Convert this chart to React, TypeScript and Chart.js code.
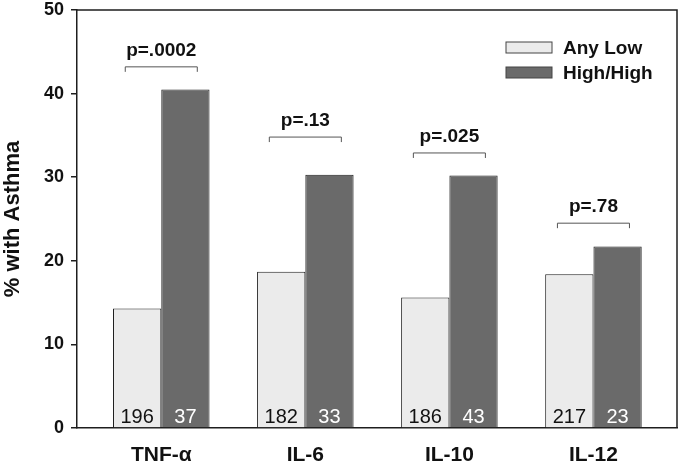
import React, { useEffect, useRef } from "react";
import { Chart, registerables } from "chart.js";

Chart.register(...registerables);

const categories = ["TNF-α", "IL-6", "IL-10", "IL-12"];
const anyLow = [14.3, 18.7, 15.6, 18.4];
const highHigh = [40.5, 30.3, 30.2, 21.7];
const anyLowN = ["196", "182", "186", "217"];
const highHighN = ["37", "33", "43", "23"];
const pValues = ["p=.0002", "p=.13", "p=.025", "p=.78"];
const bracketLevels = [43.2, 34.8, 32.9, 24.5];
const seriesNames = ["Any Low", "High/High"];
const yTicks = [0, 10, 20, 30, 40, 50];

const FONT = "'Liberation Sans', Arial, Helvetica, sans-serif";
const LIGHT = "#ebebeb";
const DARK = "#6a6a6a";
const EDGE = "#1e1e1e";

const overlay = {
  id: "overlay",
  afterDatasetsDraw(chart: any) {
    const ctx = chart.ctx;
    const { left, right, top, bottom } = chart.chartArea;
    const xs = chart.scales.x;
    const ys = chart.scales.y;
    ctx.save();
    // frame top/right
    ctx.strokeStyle = EDGE;
    ctx.lineWidth = 1.5;
    ctx.beginPath();
    ctx.moveTo(left, top);
    ctx.lineTo(right, top);
    ctx.lineTo(right, bottom);
    ctx.stroke();

    // n labels
    ctx.font = `20px ${FONT}`;
    ctx.textAlign = "center";
    ctx.textBaseline = "alphabetic";
    const m0 = chart.getDatasetMeta(0);
    const m1 = chart.getDatasetMeta(1);
    m0.data.forEach((bar: any, i: number) => {
      ctx.fillStyle = "#111";
      ctx.fillText(anyLowN[i], bar.x, bottom - 5);
    });
    m1.data.forEach((bar: any, i: number) => {
      ctx.fillStyle = "#fff";
      ctx.fillText(highHighN[i], bar.x, bottom - 5);
    });

    // brackets and p-values
    categories.forEach((_, i) => {
      const x1 = xs.getPixelForValue(i + 1 - 0.25);
      const x2 = xs.getPixelForValue(i + 1 + 0.25);
      const y = ys.getPixelForValue(bracketLevels[i]);
      ctx.strokeStyle = "#555";
      ctx.lineWidth = 1;
      ctx.beginPath();
      ctx.moveTo(x1, y + 5);
      ctx.lineTo(x1, y);
      ctx.lineTo(x2, y);
      ctx.lineTo(x2, y + 5);
      ctx.stroke();
      ctx.fillStyle = "#111";
      ctx.font = `bold 19px ${FONT}`;
      ctx.textAlign = "center";
      ctx.textBaseline = "alphabetic";
      ctx.fillText(pValues[i], (x1 + x2) / 2, y - 11);
    });

    // legend
    const lx = right - 171;
    const colors = [LIGHT, DARK];
    seriesNames.forEach((name, i) => {
      const by = top + 32 + i * 25;
      ctx.fillStyle = colors[i];
      ctx.fillRect(lx, by, 46, 11);
      ctx.strokeStyle = "#444";
      ctx.lineWidth = 1;
      ctx.strokeRect(lx, by, 46, 11);
      ctx.fillStyle = "#111";
      ctx.font = `bold 19px ${FONT}`;
      ctx.textAlign = "left";
      ctx.textBaseline = "alphabetic";
      ctx.fillText(name, lx + 57, by + 12);
    });
    ctx.restore();
  },
};

export default function App() {
  const ref = useRef<HTMLCanvasElement>(null);
  useEffect(() => {
    document.body.style.margin = "0";
    const chart = new Chart(ref.current as HTMLCanvasElement, {
      type: "bar",
      data: {
        datasets: [
          {
            label: seriesNames[0],
            data: anyLow.map((v, i) => ({ x: i + 1, y: v })),
            backgroundColor: LIGHT,
            borderColor: EDGE,
            borderWidth: 1,
          },
          {
            label: seriesNames[1],
            data: highHigh.map((v, i) => ({ x: i + 1, y: v })),
            backgroundColor: DARK,
            borderColor: EDGE,
            borderWidth: 1,
          },
        ],
      },
      options: {
        responsive: false,
        animation: false,
        events: [],
        layout: { padding: { top: 10, right: 3, left: 0, bottom: 0 } },
        datasets: { bar: { categoryPercentage: 0.67, barPercentage: 1 } },
        plugins: { legend: { display: false }, tooltip: { enabled: false } },
        scales: {
          x: {
            type: "linear",
            min: 0.415,
            max: 4.58,
            offset: false,
            grid: { display: false, drawTicks: false, offset: false },
            border: { display: true, color: EDGE, width: 1.5 },
            afterBuildTicks: (scale: any) => {
              scale.ticks = categories.map((_, i) => ({ value: i + 1 }));
            },
            afterFit: (scale: any) => {
              scale.height = 37;
              scale.paddingLeft = 0;
              scale.paddingRight = 0;
            },
            ticks: {
              padding: 15,
              color: "#111",
              font: { family: FONT, size: 21, weight: "bold" },
              callback: (v: any) => categories[Math.round(Number(v)) - 1] ?? "",
              maxRotation: 0,
              autoSkip: false,
            },
          },
          y: {
            min: 0,
            max: 50,
            afterBuildTicks: (scale: any) => {
              scale.ticks = yTicks.map((v) => ({ value: v }));
            },
            afterFit: (scale: any) => {
              scale.width = 77;
              scale.paddingTop = 0;
              scale.paddingBottom = 0;
            },
            grid: {
              drawOnChartArea: false,
              drawTicks: true,
              tickLength: 6,
              color: EDGE,
              lineWidth: 1.5,
            },
            border: { display: true, color: EDGE, width: 1.5 },
            ticks: {
              padding: 7,
              color: "#111",
              font: { family: FONT, size: 18, weight: "bold" },
            },
            title: {
              display: true,
              text: "% with Asthma",
              color: "#111",
              font: { family: FONT, size: 22, weight: "bold" },
              padding: { top: 0, bottom: 0 },
            },
          },
        },
      },
      plugins: [overlay],
    } as any);
    return () => chart.destroy();
  }, []);
  return <canvas ref={ref} width={680} height={465} style={{ display: "block" }} />;
}
